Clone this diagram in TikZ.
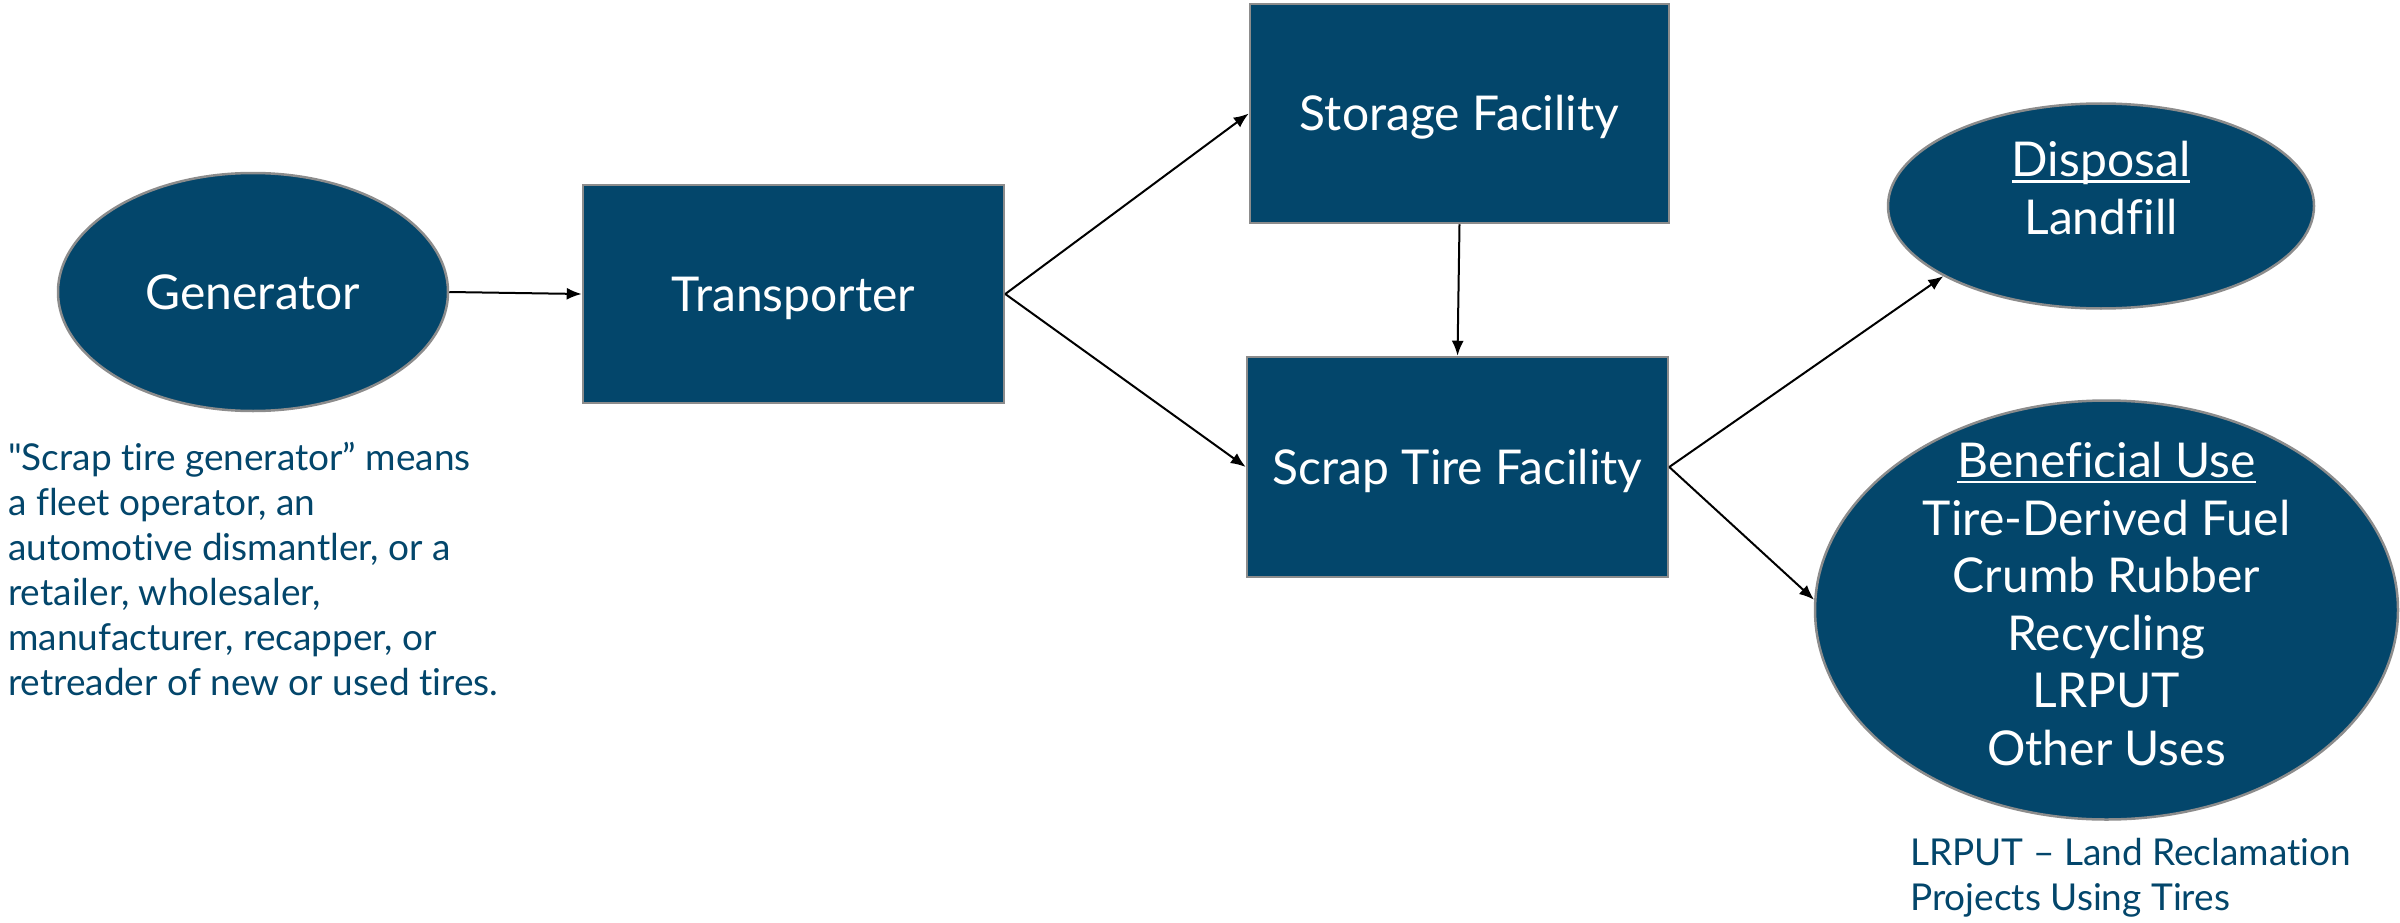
\documentclass[tikz,border=0pt]{standalone}
\usepackage{fontspec}
\setmainfont{Lato}[Ligatures={TeX,NoCommon}]
\usetikzlibrary{shapes.geometric,arrows.meta}
\definecolor{boxblue}{RGB}{3,70,107}
\definecolor{edgegray}{RGB}{140,140,140}
\definecolor{notetext}{RGB}{3,70,107}
\newcommand{\myul}[1]{\setbox0\hbox{#1}\rlap{\rule[-6pt]{\wd0}{2.5pt}}\box0}
\newcommand{\mainfs}{\fontsize{48}{57.6}\selectfont}
\newcommand{\notefs}{\fontsize{37}{45}\selectfont}
\tikzset{
  unit/.style={fill=boxblue, draw=edgegray, line width=2.5pt, text=white,
    font=\mainfs, align=center, inner sep=0pt},
  boxnode/.style={unit, rectangle, text height=36pt, text depth=1.5pt},
  ovalnode/.style={unit, ellipse},
  ovaltext/.style={text=white, font=\mainfs, align=center, inner sep=0pt},
  arr/.style={draw=black, line width=2pt, -{Latex[length=15pt,width=12pt]}},
  note/.style={text=notetext, font=\notefs, align=left, inner sep=0pt, anchor=north west}
}
\begin{document}
\begin{tikzpicture}[x=1pt,y=-1pt]
\useasboundingbox (0,0) rectangle (2400,923);
\node[ovalnode, minimum width=390pt, minimum height=238pt] (gen) at (253,292) {Generator};
\node[boxnode, minimum width=421pt, minimum height=218pt] (trans) at (793.5,294) {Transporter};
\node[boxnode, minimum width=419pt, minimum height=219pt] (stor) at (1459.5,113.5) {Storage Facility};
\node[boxnode, minimum width=421pt, minimum height=220pt] (scrap) at (1457.5,467) {Scrap Tire Facility};
\node[ovalnode, minimum width=426pt, minimum height=205pt,
  label={[ovaltext, yshift=18pt]center:{\myul{Disposal}\\Landfill}}] (disp) at (2101,206) {};
\node[ovalnode, minimum width=583pt, minimum height=419pt,
  label={[ovaltext, yshift=6pt]center:{\myul{Beneficial Use}\\Tire-Derived Fuel\\Crumb Rubber\\Recycling\\LRPUT\\Other Uses}}] (ben) at (2106.5,610) {};
\node[note] (gennote) at (8,442) {\textquotedbl Scrap tire generator” means\\a fleet operator, an\\automotive dismantler, or a\\retailer, wholesaler,\\manufacturer, recapper, or\\retreader of new or used tires.};
\node[note] (bennote) at (1910,838) {LRPUT – Land Reclamation\\Projects Using Tires};
\draw[arr] (gen.east) -- (trans.west);
\draw[arr] (trans.east) -- (stor.west);
\draw[arr] (trans.east) -- (scrap.west);
\draw[arr] (stor.south) -- (scrap.north);
\draw[arr] (scrap.east) -- (disp.204);
\draw[arr] (scrap.east) -- (ben.178);
\end{tikzpicture}
\end{document}
